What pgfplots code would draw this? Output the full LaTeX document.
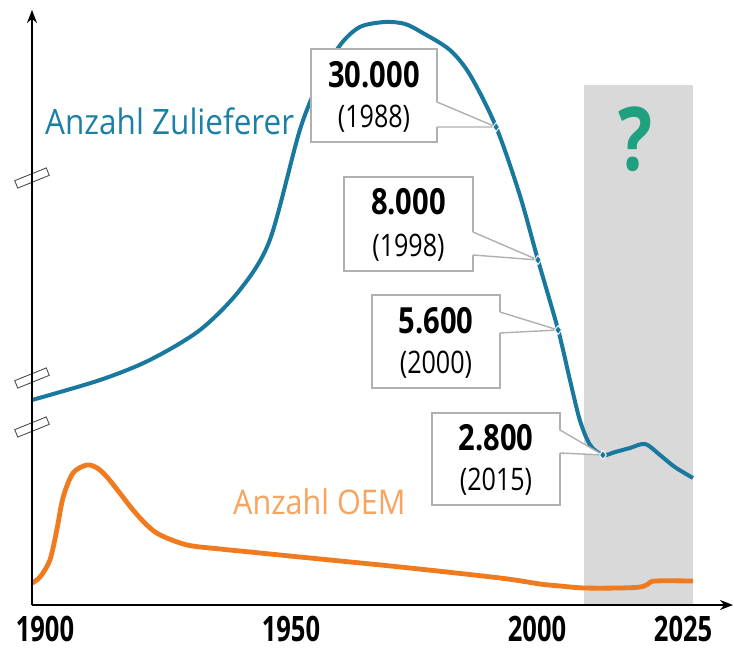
\documentclass[border=0pt]{standalone}
\usepackage{fontspec}
\setmainfont{Open Sans}
\newfontfamily\condfont[FakeStretch=0.81]{Open Sans}
\newfontfamily\tickfont[FakeStretch=0.73]{Open Sans}
\newfontfamily\labfont[FakeStretch=0.9]{Open Sans}
\usepackage{pgfplots}
\pgfplotsset{compat=1.18}
\usetikzlibrary{arrows.meta}
\definecolor{zblue}{HTML}{18789E}
\definecolor{zbluetext}{HTML}{1B7FA6}
\definecolor{zorange}{HTML}{F07A1E}
\definecolor{oemtext}{HTML}{F8A35E}
\definecolor{bandgray}{HTML}{D9D9D9}
\definecolor{qgreen}{HTML}{1FA07E}
\definecolor{boxc}{HTML}{B0B0B0}
\tikzset{brk/.style={draw=black!70, line width=0.9pt, minimum width=34pt, minimum height=8pt, inner sep=0pt, rotate=22}}
\begin{document}
\begin{tikzpicture}
\path[use as bounding box] (-32pt,-46pt) rectangle (702pt,605pt);
\begin{axis}[
  scale only axis, width=701pt, height=595pt,
  xmin=1897.36, xmax=2039.84, ymin=0, ymax=595,
  axis lines=left, axis on top,
  axis line style={line width=1.8pt, -{Stealth[length=13pt,width=10pt]}},
  ytick=\empty,
  xtick={1900,1950,2000,2029.7},
  xticklabels={1900,1950,2000,2025},
  major tick length=0pt,
  xticklabel style={font=\tickfont\bfseries\fontsize{35}{35}\selectfont, anchor=north, inner sep=0pt, yshift=-11pt},
  clip=false,
]
% grey "future" band
\addplot[fill=bandgray, draw=none] coordinates {(2009.6,520) (2031.7,520)} \closedcycle;
% Anzahl OEM
\addplot[smooth, line width=4.8pt, color=zorange] coordinates {
(1897.36,22) (1899.0,28) (1901.0,45) (1902.4,75) (1903.7,108) (1905.7,132)
(1908.5,140) (1910.6,137) (1912.6,128) (1915.2,112) (1917.9,95) (1920.7,80)
(1923.4,70) (1928.9,60) (1935.6,56) (1941.7,53) (1951.8,48) (1972.2,38)
(1992.5,27) (2000.6,21) (2004.7,19) (2009.6,17) (2016.9,17) (2021.0,18)
(2022.6,21) (2024.0,24) (2031.7,24)};
% Anzahl Zulieferer
\addplot[smooth, line width=4pt, color=zblue] coordinates {
(1897.36,205) (1911.2,225) (1921.3,245) (1931.5,275) (1939.6,315) (1945.7,365)
(1951.8,475) (1955.9,525) (1960.0,560) (1964.0,578) (1969.1,583) (1973.2,581)
(1976.8,572) (1982.3,555) (1986.4,530) (1991.7,478) (1996.5,410) (2000.2,345)
(2004.3,275) (2006.7,225) (2008.7,185) (2010.8,160) (2013.4,150) (2015.9,153)
(2018.9,157) (2022.0,161) (2025.0,150) (2028.0,138) (2031.7,127)};
% callout boxes
\begin{scope}[line width=1.4pt]
\draw[boxc, fill=white] (axis cs:1954.07,556) rectangle (axis cs:1979.67,463);
\fill[white] ([xshift=-1.2pt]axis cs:1979.67,503) -- (axis cs:1991.7,478) -- ([xshift=-1.2pt]axis cs:1979.67,478) -- cycle;
\draw[boxc] (axis cs:1979.67,503) -- (axis cs:1991.7,478) -- (axis cs:1979.67,478);
\draw[boxc, fill=white] (axis cs:1960.77,428) rectangle (axis cs:1986.99,334);
\fill[white] ([xshift=-1.2pt]axis cs:1986.99,373) -- (axis cs:2000.2,345) -- ([xshift=-1.2pt]axis cs:1986.99,350) -- cycle;
\draw[boxc] (axis cs:1986.99,373) -- (axis cs:2000.2,345) -- (axis cs:1986.99,350);
\draw[boxc, fill=white] (axis cs:1966.46,310) rectangle (axis cs:1992.48,217);
\fill[white] ([xshift=-1.2pt]axis cs:1992.48,293) -- (axis cs:2004.3,275) -- ([xshift=-1.2pt]axis cs:1992.48,272) -- cycle;
\draw[boxc] (axis cs:1992.48,293) -- (axis cs:2004.3,275) -- (axis cs:1992.48,272);
\draw[boxc, fill=white] (axis cs:1978.66,192) rectangle (axis cs:2004.67,100);
\fill[white] ([xshift=-1.2pt]axis cs:2004.67,175) -- (axis cs:2013.4,150) -- ([xshift=-1.2pt]axis cs:2004.67,152) -- cycle;
\draw[boxc] (axis cs:2004.67,175) -- (axis cs:2013.4,150) -- (axis cs:2004.67,152);
\end{scope}
\begin{scope}[every node/.style={inner sep=0pt}]
\node[font=\condfont\bfseries\fontsize{36}{36}\selectfont] at (axis cs:1966.87,530) {30.000};
\node[font=\condfont\fontsize{31}{31}\selectfont] at (axis cs:1966.87,486) {(1988)};
\node[font=\condfont\bfseries\fontsize{36}{36}\selectfont] at (axis cs:1973.88,403) {8.000};
\node[font=\condfont\fontsize{31}{31}\selectfont] at (axis cs:1973.88,357) {(1998)};
\node[font=\condfont\bfseries\fontsize{36}{36}\selectfont] at (axis cs:1979.47,284.5) {5.600};
\node[font=\condfont\fontsize{31}{31}\selectfont] at (axis cs:1979.47,240.5) {(2000)};
\node[font=\condfont\bfseries\fontsize{36}{36}\selectfont] at (axis cs:1991.67,167) {2.800};
\node[font=\condfont\fontsize{31}{31}\selectfont] at (axis cs:1991.67,123) {(2015)};
\end{scope}
% marked points
\addplot[only marks, mark=diamond*, mark size=4.5pt, mark options={fill=zblue, draw=white, line width=0.9pt}] coordinates {
(1991.7,478) (2000.2,345) (2004.3,275) (2013.4,150)};
% series labels
\node[anchor=base west, inner sep=0pt, text=zbluetext, font=\labfont\fontsize{35}{35}\selectfont] at (axis cs:1900,470) {Anzahl Zulieferer};
\node[anchor=base west, inner sep=0pt, text=oemtext, font=\labfont\fontsize{34}{34}\selectfont] at (axis cs:1938.2,90) {Anzahl OEM};
\node[inner sep=0pt, text=qgreen, font=\condfont\bfseries\fontsize{88}{88}\selectfont] at (axis cs:2020.1,466) {?};
% axis break marks
\node[brk] at (axis cs:1897.36,427) {};
\node[brk] at (axis cs:1897.36,227) {};
\node[brk] at (axis cs:1897.36,178) {};
\end{axis}
\end{tikzpicture}
\end{document}
